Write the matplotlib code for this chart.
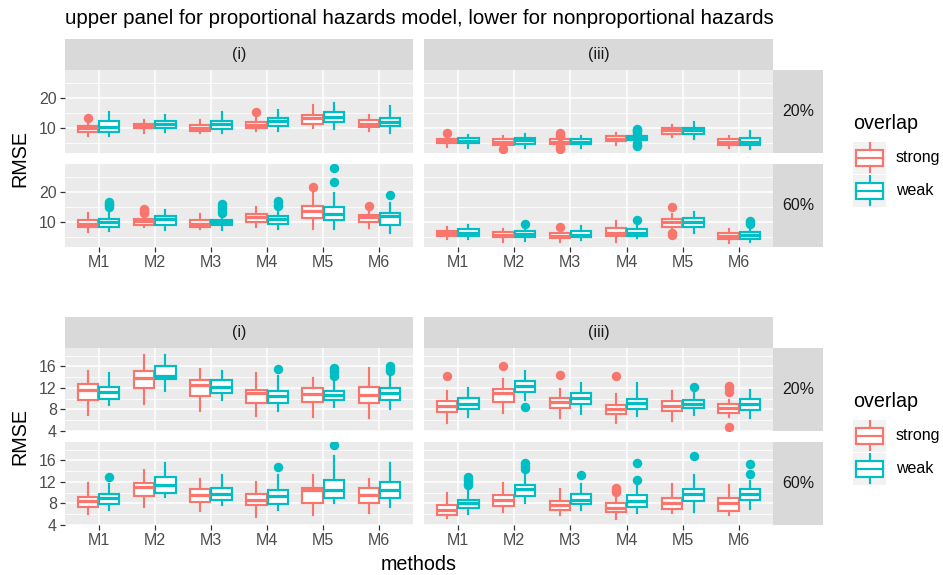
import matplotlib.pyplot as plt
from matplotlib.patches import Rectangle
from matplotlib.lines import Line2D

plt.rcParams['font.family'] = ['Liberation Sans', 'DejaVu Sans']

methods = ['M1', 'M2', 'M3', 'M4', 'M5', 'M6']
groups = ['strong', 'weak']
scenarios = ['(i)', '(iii)']
censoring = ['20%', '60%']
colors = {'strong': '#F8766D', 'weak': '#00BFC4'}

# box stats per method: (lower whisker, q1, median, q3, upper whisker)
# ---- upper panel: proportional hazards ----
ph_i20_strong = [(7.2, 8.7, 9.8, 10.7, 12.0), (8.1, 9.8, 10.7, 11.4, 12.6), (8.1, 9.0, 10.0, 10.9, 12.6),
                 (8.9, 9.8, 10.9, 12.0, 13.3), (9.8, 11.4, 13.1, 14.4, 17.6), (8.9, 10.1, 11.1, 12.6, 14.2)]
ph_i20_strong_out = [[13.3], [], [], [15.1], [], []]
ph_i20_weak = [(7.2, 8.7, 10.3, 12.2, 15.3), (8.7, 9.8, 11.2, 12.2, 14.4), (8.3, 9.6, 11.4, 12.3, 15.1),
               (8.9, 10.7, 12.3, 13.4, 15.9), (9.6, 12.0, 13.7, 15.1, 18.3), (8.4, 10.7, 12.0, 13.4, 17.2)]
ph_i20_weak_out = [[], [], [], [], [], []]

ph_i60_strong = [(6.7, 8.1, 9.2, 10.6, 12.8), (8.1, 8.9, 10.1, 10.9, 12.0), (7.6, 8.4, 9.4, 10.6, 12.6),
                 (8.4, 10.0, 11.5, 12.6, 14.8), (7.6, 11.4, 13.7, 15.1, 19.4), (7.9, 9.8, 11.7, 12.3, 13.7)]
ph_i60_strong_out = [[], [13.0, 13.6, 14.2], [], [], [21.4], [15.3]]
ph_i60_weak = [(7.0, 8.1, 9.8, 10.9, 14.8), (7.3, 8.9, 10.8, 11.8, 13.9), (7.3, 8.9, 9.8, 10.7, 11.7),
               (7.6, 9.4, 10.9, 12.0, 14.0), (7.6, 10.7, 12.6, 14.8, 19.6), (6.2, 9.0, 11.8, 12.8, 16.2)]
ph_i60_weak_out = [[15.0, 15.5, 16.0, 16.4], [], [12.8, 13.5, 14.5, 15.2, 15.8],
                   [15.1, 15.6, 16.4, 17.0], [23.3, 27.9], [19.0]]

ph_iii20_strong = [(3.7, 4.8, 5.7, 6.4, 7.8), (3.7, 4.4, 5.3, 6.1, 7.2), (4.2, 4.6, 5.3, 6.1, 6.7),
                   (4.4, 5.6, 6.4, 7.2, 8.3), (7.0, 7.9, 9.2, 10.0, 10.9), (3.1, 4.2, 5.1, 6.1, 7.3)]
ph_iii20_strong_out = [[8.4], [2.8], [3.0, 3.7, 7.2, 7.7, 8.3], [], [], []]
ph_iii20_weak = [(3.4, 4.8, 5.7, 6.7, 7.6), (3.4, 4.6, 5.9, 6.7, 7.9), (3.4, 4.6, 5.4, 6.3, 7.2),
                 (5.2, 5.9, 6.6, 7.2, 7.9), (6.1, 7.9, 9.2, 10.0, 12.0), (2.8, 4.2, 5.3, 6.7, 9.0)]
ph_iii20_weak_out = [[], [], [], [3.9, 4.4, 4.9, 8.3, 8.8, 9.2, 9.6], [], []]

ph_iii60_strong = [(4.2, 5.1, 6.1, 7.0, 8.1), (3.4, 4.8, 5.7, 6.7, 7.6), (3.3, 4.6, 5.3, 6.2, 7.0),
                   (3.1, 5.3, 6.2, 7.9, 10.3), (7.6, 8.4, 9.8, 10.9, 12.6), (2.8, 4.2, 5.3, 6.4, 7.6)]
ph_iii60_strong_out = [[], [], [8.1], [], [5.6, 6.1, 15.0], []]
ph_iii60_weak = [(4.4, 5.3, 6.4, 7.6, 8.9), (3.7, 5.0, 5.9, 6.8, 8.1), (3.9, 4.8, 5.7, 6.8, 8.7),
                 (4.6, 5.3, 6.4, 7.6, 8.7), (6.2, 8.1, 9.8, 11.1, 13.1), (3.1, 4.4, 5.7, 6.7, 8.3)]
ph_iii60_weak_out = [[], [9.4], [], [10.6], [], [9.2, 9.8, 10.4]]

# ---- lower panel: nonproportional hazards ----
nph_i20_strong = [(7.0, 9.8, 11.6, 12.7, 15.2), (8.9, 11.9, 13.8, 15.2, 18.2), (7.7, 10.5, 12.5, 13.4, 15.6),
                  (6.8, 9.1, 11.1, 11.6, 14.8), (6.5, 9.4, 10.9, 12.0, 13.8), (6.3, 9.2, 10.6, 12.1, 15.8)]
nph_i20_strong_out = [[], [], [], [], [], []]
nph_i20_weak = [(8.8, 10.0, 11.3, 12.2, 14.8), (11.4, 13.7, 14.3, 16.0, 18.2), (9.8, 11.1, 12.2, 13.4, 15.2),
                (7.7, 9.2, 10.5, 11.5, 14.2), (8.5, 9.8, 10.6, 11.5, 13.2), (8.0, 9.7, 11.0, 12.0, 14.0)]
nph_i20_weak_out = [[], [], [], [15.6], [14.3, 14.9, 15.3, 15.8], [15.1, 15.6, 16.1]]

nph_i60_strong = [(6.0, 7.3, 8.4, 9.2, 11.8), (7.3, 9.4, 11.1, 11.8, 14.2), (6.6, 8.3, 9.5, 10.6, 12.6),
                  (5.5, 7.6, 8.7, 9.8, 12.0), (5.8, 8.0, 10.4, 10.9, 13.2), (6.1, 8.0, 9.5, 10.8, 12.6)]
nph_i60_strong_out = [[], [], [], [], [], []]
nph_i60_weak = [(6.7, 7.8, 8.9, 9.8, 11.6), (9.2, 10.0, 11.5, 12.9, 15.6), (7.6, 8.6, 9.8, 10.9, 13.2),
                (6.7, 7.8, 9.4, 10.5, 13.2), (8.0, 8.9, 10.5, 12.4, 16.9), (7.4, 8.9, 10.5, 11.9, 15.6)]
nph_i60_weak_out = [[13.0], [], [], [14.8], [18.8], []]

nph_iii20_strong = [(5.5, 7.5, 8.6, 9.5, 11.4), (7.3, 9.4, 11.0, 11.8, 13.7), (6.3, 8.2, 9.4, 10.2, 11.8),
                    (5.4, 7.1, 8.0, 8.8, 10.8), (5.8, 7.7, 8.7, 9.5, 11.4), (6.6, 7.4, 8.2, 8.9, 9.8)]
nph_iii20_strong_out = [[14.3], [16.1], [14.5], [14.2], [], [4.7, 11.3, 11.9, 12.4]]
nph_iii20_weak = [(6.5, 8.0, 9.0, 10.2, 12.0), (9.7, 11.3, 12.4, 13.2, 15.2), (7.1, 9.0, 10.2, 11.0, 13.0),
                  (6.8, 8.0, 9.2, 10.0, 13.0), (7.0, 8.2, 8.9, 9.7, 11.4), (6.3, 7.9, 8.9, 10.0, 11.7)]
nph_iii20_weak_out = [[], [8.5], [], [], [12.2], []]

nph_iii60_strong = [(5.2, 5.8, 6.8, 7.7, 10.0), (6.3, 7.5, 8.6, 9.5, 11.8), (5.8, 6.7, 7.7, 8.4, 10.6),
                    (5.0, 6.4, 7.2, 8.1, 9.4), (6.1, 6.9, 8.1, 9.0, 11.7), (5.8, 6.6, 8.0, 9.0, 11.4)]
nph_iii60_strong_out = [[], [], [], [10.1, 10.5, 10.9], [], []]
nph_iii60_weak = [(6.0, 7.1, 8.1, 8.7, 10.6), (8.0, 9.4, 10.6, 11.4, 13.4), (6.7, 7.8, 8.7, 9.8, 11.7),
                  (6.1, 7.4, 8.4, 9.5, 11.6), (6.3, 8.4, 9.8, 10.7, 13.2), (7.0, 8.7, 9.7, 10.7, 12.1)]
nph_iii60_weak_out = [[11.4, 11.7, 12.2, 12.6, 13.0], [14.4, 15.0, 15.5], [13.2], [12.4, 15.6], [16.9], [13.5, 15.3]]

upper = {
    ('(i)', '20%'): (ph_i20_strong, ph_i20_strong_out, ph_i20_weak, ph_i20_weak_out),
    ('(i)', '60%'): (ph_i60_strong, ph_i60_strong_out, ph_i60_weak, ph_i60_weak_out),
    ('(iii)', '20%'): (ph_iii20_strong, ph_iii20_strong_out, ph_iii20_weak, ph_iii20_weak_out),
    ('(iii)', '60%'): (ph_iii60_strong, ph_iii60_strong_out, ph_iii60_weak, ph_iii60_weak_out),
}
lower = {
    ('(i)', '20%'): (nph_i20_strong, nph_i20_strong_out, nph_i20_weak, nph_i20_weak_out),
    ('(i)', '60%'): (nph_i60_strong, nph_i60_strong_out, nph_i60_weak, nph_i60_weak_out),
    ('(iii)', '20%'): (nph_iii20_strong, nph_iii20_strong_out, nph_iii20_weak, nph_iii20_weak_out),
    ('(iii)', '60%'): (nph_iii60_strong, nph_iii60_strong_out, nph_iii60_weak, nph_iii60_weak_out),
}

W, H = 943, 575
fig = plt.figure(figsize=(W / 100, H / 100), dpi=100)

small = 11.5   # tick labels, strip text, legend labels
big = 14.2     # axis titles, legend title
lw = 1.55      # box outline width


def px_axes(x0, y0, x1, y1):
    return fig.add_axes([x0 / W, 1 - y1 / H, (x1 - x0) / W, (y1 - y0) / H])


def strip(x0, y0, x1, y1, label):
    ax = px_axes(x0, y0, x1, y1)
    ax.set_facecolor('#D9D9D9')
    ax.set_xticks([])
    ax.set_yticks([])
    for s in ax.spines.values():
        s.set_visible(False)
    ax.text(0.5, 0.5, label, ha='center', va='center', fontsize=small, color='#1A1A1A',
            transform=ax.transAxes)


def boxes(ax, stats, outs, offset, color):
    bstats = [dict(whislo=s[0], q1=s[1], med=s[2], q3=s[3], whishi=s[4], fliers=o)
              for s, o in zip(stats, outs)]
    pos = [i + 1 + offset for i in range(len(bstats))]
    ax.bxp(bstats, positions=pos, widths=0.36, patch_artist=True, showcaps=False,
           boxprops=dict(facecolor='white', edgecolor=color, linewidth=lw),
           whiskerprops=dict(color=color, linewidth=lw),
           medianprops=dict(color=color, linewidth=lw * 1.5, solid_capstyle='butt'),
           flierprops=dict(marker='o', markerfacecolor=color, markeredgecolor=color,
                           markersize=5.8, linestyle='none'),
           zorder=3)


def facet(rect, data, ylim, majors, minors, show_y, show_x):
    ax = px_axes(*rect)
    ax.set_facecolor('#EBEBEB')
    ax.set_axisbelow(True)
    s_stats, s_out, w_stats, w_out = data
    boxes(ax, s_stats, s_out, -0.19, colors['strong'])
    boxes(ax, w_stats, w_out, 0.19, colors['weak'])
    ax.set_xlim(0.4, 6.6)
    ax.set_ylim(*ylim)
    ax.set_yticks(majors)
    ax.set_yticks(minors, minor=True)
    ax.set_xticks(range(1, 7))
    ax.grid(True, which='major', color='white', linewidth=1.15)
    ax.grid(True, which='minor', axis='y', color='white', linewidth=0.6)
    for s in ax.spines.values():
        s.set_visible(False)
    ax.tick_params(which='minor', length=0)
    ax.tick_params(which='major', length=3.4, width=0.9, color='#333333',
                   labelcolor='#4D4D4D', labelsize=small, pad=2.5)
    ax.set_xticklabels(methods if show_x else [])
    if not show_x:
        ax.tick_params(axis='x', length=0)
    if not show_y:
        ax.tick_params(axis='y', length=0, labelleft=False)
    return ax


def legend(y_title):
    fig.text(853 / W, 1 - y_title / H, 'overlap', fontsize=big, va='center', ha='left')
    for k, g in enumerate(groups):
        top = y_title + 18 + k * 33
        ax = px_axes(853, top, 886, top + 32)
        ax.set_facecolor('#F2F2F2')
        ax.set_xlim(0, 1)
        ax.set_ylim(0, 1)
        ax.set_xticks([])
        ax.set_yticks([])
        for s in ax.spines.values():
            s.set_visible(False)
        c = colors[g]
        ax.add_patch(Rectangle((0.1, 0.25), 0.8, 0.5, facecolor='white', edgecolor=c, linewidth=lw))
        ax.add_line(Line2D([0.1, 0.9], [0.5, 0.5], color=c, linewidth=lw))
        ax.add_line(Line2D([0.5, 0.5], [0.75, 0.95], color=c, linewidth=lw))
        ax.add_line(Line2D([0.5, 0.5], [0.05, 0.25], color=c, linewidth=lw))
        fig.text(896 / W, 1 - (top + 16) / H, g, fontsize=small, va='center', ha='left', color='black')


cols_x = [(65, 413), (424, 773)]


def panel(data, y0, ylim, majors, minors):
    # y0 = top of the strip row
    rows_y = [(y0 + 31, y0 + 114), (y0 + 125, y0 + 208)]
    for ci, sc in enumerate(scenarios):
        x0, x1 = cols_x[ci]
        strip(x0, y0, x1, y0 + 31, sc)
        for ri, cen in enumerate(censoring):
            ya, yb = rows_y[ri]
            facet((x0, ya, x1, yb), data[(sc, cen)], ylim, majors, minors,
                  show_y=(ci == 0), show_x=(ri == 1))
    for ri, cen in enumerate(censoring):
        ya, yb = rows_y[ri]
        strip(773, ya, 823, yb, cen)
    yc = (rows_y[0][0] + rows_y[1][1]) / 2
    fig.text(20 / W, 1 - yc / H, 'RMSE', rotation=90, fontsize=big, va='center', ha='center')
    legend(yc - 35)


fig.text(65 / W, 1 - 19 / H, 'upper panel for proportional hazards model, lower for nonproportional hazards',
         fontsize=14.8, ha='left', va='center')
panel(upper, 39, (1.6, 29.2), [10, 20], [5, 15, 25])
panel(lower, 317, (3.95, 19.45), [4, 8, 12, 16], [6, 10, 14, 18])
fig.text(419 / W, 1 - 565 / H, 'methods', fontsize=big, ha='center', va='center')

fig.savefig('out.png', dpi=100)
